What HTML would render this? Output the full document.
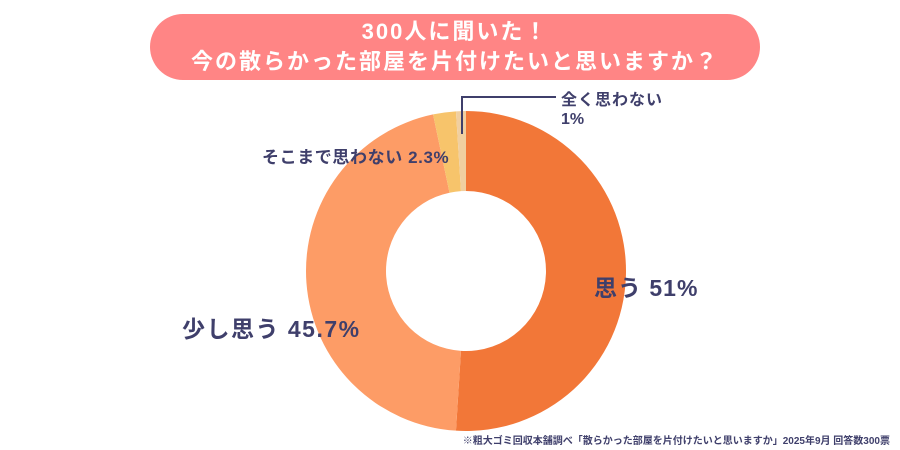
<!DOCTYPE html>
<html><head><meta charset="utf-8"><style>
body{margin:0;width:900px;height:450px;background:#fff;overflow:hidden;font-family:"Liberation Sans","Noto Sans CJK JP",sans-serif}
#banner{position:absolute;left:150px;top:14px;width:610px;height:66px;border-radius:33px;background:#ff8585;color:#fff;text-align:center;font-weight:bold;font-size:22px;letter-spacing:2px;line-height:30px;padding-top:3px;box-sizing:border-box}
svg{position:absolute;left:0;top:0}
</style></head><body>
<div id="banner">300人に聞いた！<br>今の散らかった部屋を片付けたいと思いますか？</div>
<svg width="900" height="450" id="chart">
<g id="slices"></g>
<polyline points="462,134 462,97 556,97" fill="none" stroke="#3f3f6b" stroke-width="2"/>
<g font-weight="bold" fill="#3f3f6b" font-family="Liberation Sans, Noto Sans CJK JP, sans-serif">
<text x="561" y="105" font-size="16" letter-spacing="1">全く思わない</text>
<text x="561" y="124" font-size="16">1%</text>
<text x="262" y="163" font-size="17" letter-spacing="0.6">そこまで思わない 2.3%</text>
<text x="594" y="296" font-size="23" letter-spacing="1">思う 51%</text>
<text x="182" y="337" font-size="23" letter-spacing="1.5">少し思う  45.7%</text>
<text x="890" y="444" font-size="10" text-anchor="end">※粗大ゴミ回収本舗調べ「散らかった部屋を片付けたいと思いますか」2025年9月 回答数300票</text>
</g>
</svg>
<script>
const categories=["思う","少し思う","そこまで思わない","全く思わない"];
const values=[51,45.7,2.3,1];
const colors=["#f27738","#fd9c66","#f7c46b","#f0cfa0"];
const cx=466,cy=271,R=160,r=80;
const total=values.reduce((a,b)=>a+b,0);
let a0=0;const g=document.getElementById('slices');
function pt(a,rad){return [cx+rad*Math.sin(a),cy-rad*Math.cos(a)];}
values.forEach((v,i)=>{
 const a1=a0+v/total*2*Math.PI;const lg=(a1-a0)>Math.PI?1:0;
 const p1=pt(a0,R),p2=pt(a1,R),p3=pt(a1,r),p4=pt(a0,r);
 const p=document.createElementNS("http://www.w3.org/2000/svg","path");
 p.setAttribute('d',`M${p1}A${R},${R} 0 ${lg} 1 ${p2}L${p3}A${r},${r} 0 ${lg} 0 ${p4}Z`);
 p.setAttribute('fill',colors[i]);
 
 
 g.appendChild(p);a0=a1;
});
</script>
</body></html>
